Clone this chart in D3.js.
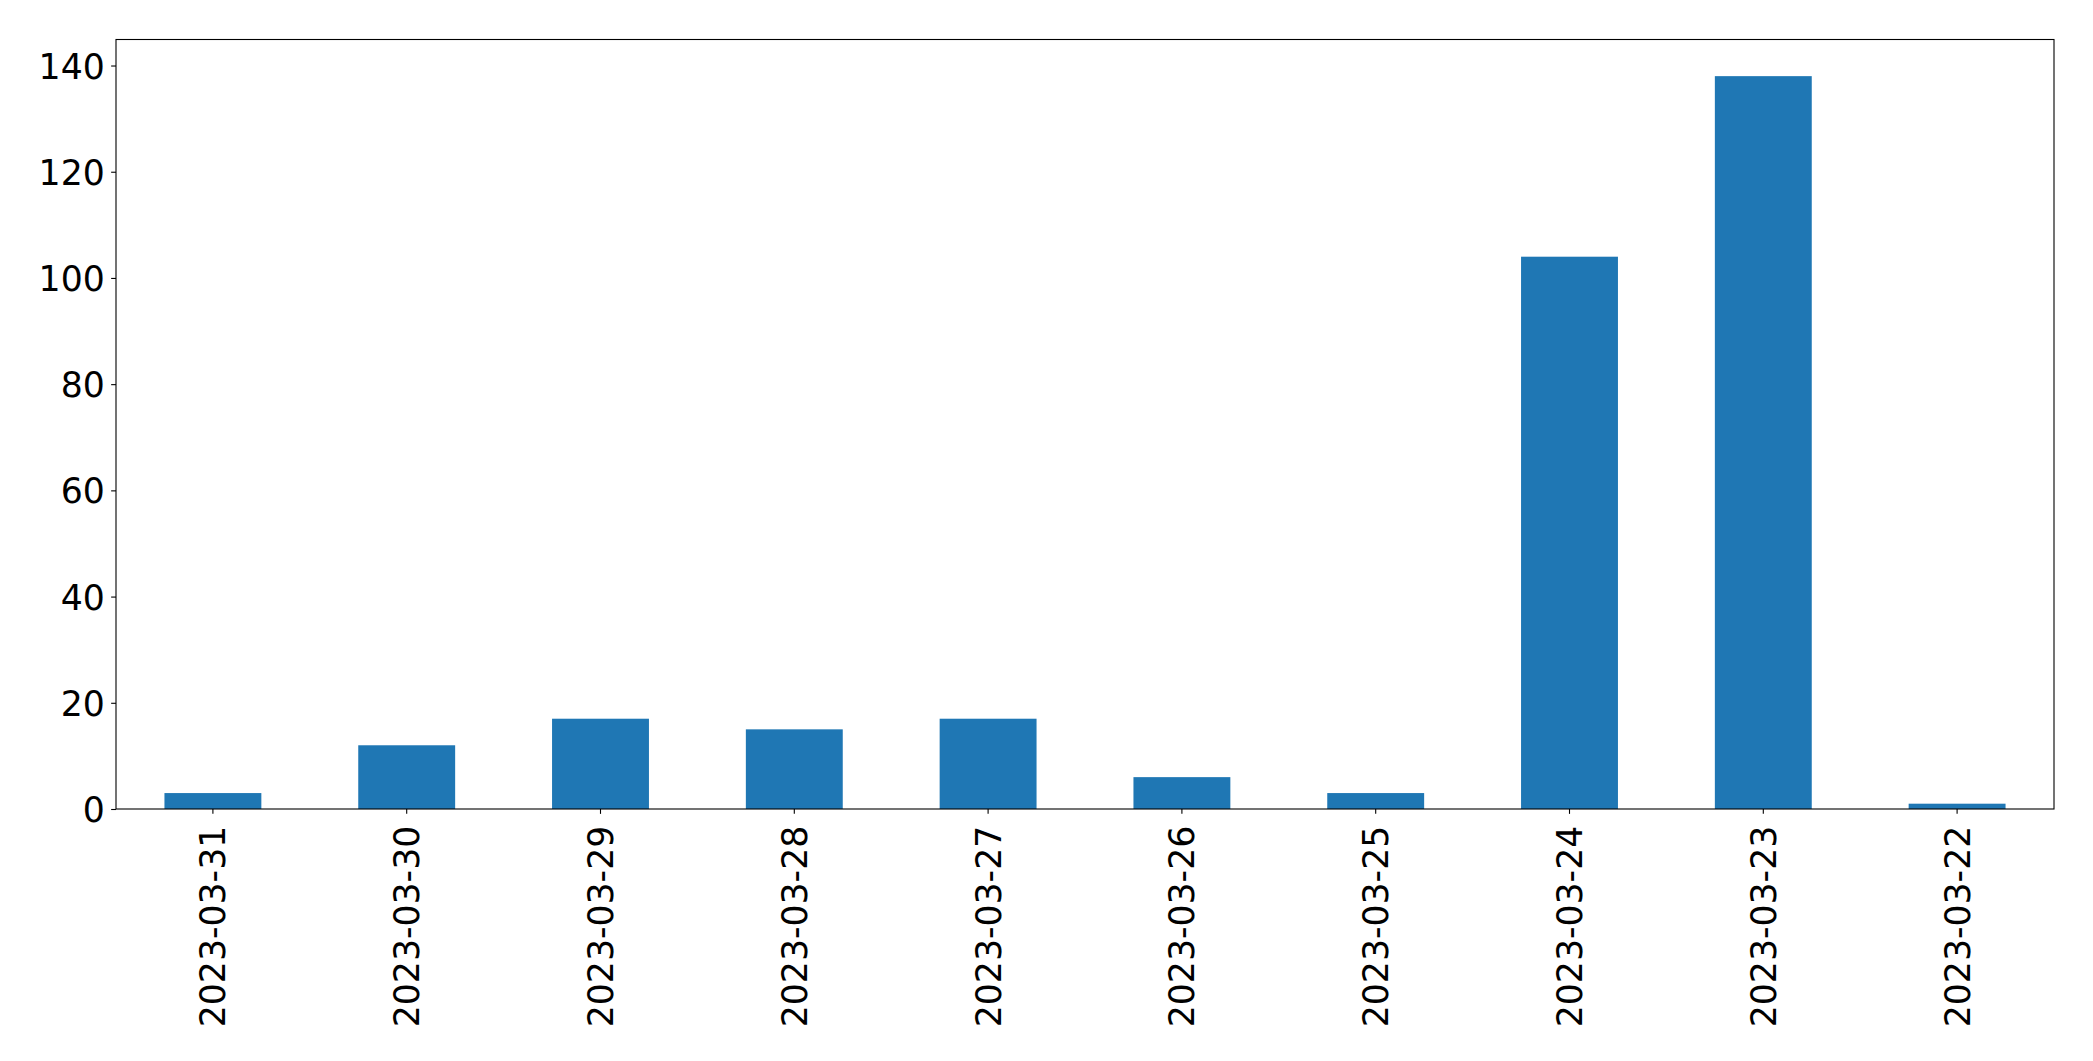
<!DOCTYPE html>
<html>
<head>
<meta charset="utf-8">
<script src="https://cdn.jsdelivr.net/npm/d3@7"></script>
<style>
  html, body { margin: 0; padding: 0; background: #fff; }
  svg { display: block; }
  text { font-family: "DejaVu Sans", sans-serif; fill: #000; }
</style>
</head>
<body>
<svg id="chart" width="2093" height="1061"></svg>
<script>
const categories = ["2023-03-31","2023-03-30","2023-03-29","2023-03-28","2023-03-27","2023-03-26","2023-03-25","2023-03-24","2023-03-23","2023-03-22"];
const values = [3, 12, 17, 15, 17, 6, 3, 104, 138, 1];
const yTicks = [0, 20, 40, 60, 80, 100, 120, 140];

const W = 2093, H = 1061;
const margin = { left: 116, right: 2093 - 2054, top: 39.5, bottom: 1061 - 809 };
const fontPx = 34.7;
const tickLen = 4.86, pad = 4.86;

const svg = d3.select("#chart");
const x0 = margin.left, x1 = W - margin.right;
const y0 = H - margin.bottom, y1 = margin.top;

const x = d3.scaleBand().domain(categories).range([x0, x1]).paddingInner(0.5).paddingOuter(0.25);
const yMax = d3.max(values) * 1.05;
const y = d3.scaleLinear().domain([0, yMax]).range([y0, y1]);

// bars
svg.append("g").selectAll("rect")
  .data(values)
  .join("rect")
  .attr("x", (d, i) => x(categories[i]))
  .attr("width", x.bandwidth())
  .attr("y", d => y(d))
  .attr("height", d => y(0) - y(d))
  .attr("fill", "#1f77b4");

// y axis
const yAxis = d3.axisLeft(y).tickValues(yTicks).tickSize(tickLen).tickPadding(pad).tickFormat(d3.format("d"));
const gy = svg.append("g").attr("transform", `translate(${x0},0)`).call(yAxis);
gy.select(".domain").remove();
gy.selectAll(".tick line").attr("stroke", "#000").attr("stroke-width", 1.1);
gy.selectAll(".tick text").attr("font-size", fontPx).attr("font-family", "DejaVu Sans").attr("dy", "0.36em").attr("x", -(tickLen + pad + 1.5));

// x axis
const xAxis = d3.axisBottom(x).tickSize(tickLen).tickPadding(pad);
const gx = svg.append("g").attr("transform", `translate(0,${y0})`).call(xAxis);
gx.select(".domain").remove();
gx.selectAll(".tick line").attr("stroke", "#000").attr("stroke-width", 1.1);
gx.selectAll(".tick text")
  .attr("font-size", fontPx)
  .attr("font-family", "DejaVu Sans")
  .attr("text-anchor", "end")
  .attr("transform", "rotate(-90)")
  .attr("x", -(tickLen + pad + 7))
  .attr("y", 0)
  .attr("dy", "0.36em");

// frame
svg.append("rect")
  .attr("x", x0).attr("y", y1)
  .attr("width", x1 - x0).attr("height", y0 - y1)
  .attr("fill", "none").attr("stroke", "#000").attr("stroke-width", 1.1);
</script>
</body>
</html>
